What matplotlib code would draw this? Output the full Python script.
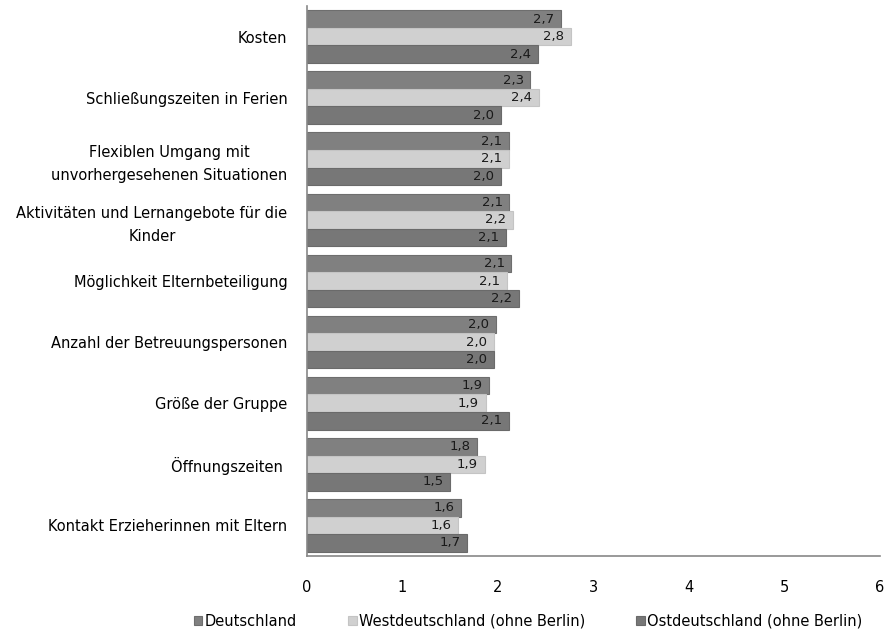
import matplotlib
matplotlib.use("Agg")
import matplotlib.pyplot as plt
import numpy as np

categories = [
    "Kosten",
    "Schließungszeiten in Ferien",
    "Flexiblen Umgang mit\nunvorhergesehenen Situationen",
    "Aktivitäten und Lernangebote für die\nKinder",
    "Möglichkeit Elternbeteiligung",
    "Anzahl der Betreuungspersonen",
    "Größe der Gruppe",
    "Öffnungszeiten ",
    "Kontakt Erzieherinnen mit Eltern",
]
series_names = ["Deutschland", "Westdeutschland (ohne Berlin)", "Ostdeutschland (ohne Berlin)"]
deutschland = [2.66, 2.34, 2.11, 2.12, 2.14, 1.98, 1.91, 1.78, 1.61]
west = [2.76, 2.43, 2.11, 2.16, 2.09, 1.96, 1.87, 1.86, 1.58]
ost = [2.42, 2.03, 2.03, 2.08, 2.22, 1.96, 2.11, 1.50, 1.68]
xticks = [0, 1, 2, 3, 4, 5, 6]

colors = ["#808080", "#d0d0d0", "#777777"]
edges = ["#6e6e6e", "#c4c4c4", "#6a6a6a"]

plt.rcParams['font.family'] = ['DejaVu Sans']
fig = plt.figure(figsize=(8.87, 6.31), dpi=100)
ax = fig.add_axes([307/887, 1-556/631, (880-307)/887, (556-6)/631])

n = len(categories)
y = np.arange(n)
h = 0.287
offsets = [-h, 0, h]
data = [deutschland, west, ost]
handles = []
for i, (vals, off) in enumerate(zip(data, offsets)):
    bars = ax.barh(y + off, vals, height=h, color=colors[i], edgecolor=edges[i],
                   linewidth=0.8, label=series_names[i])
    handles.append(bars)
    for b, v in zip(bars, vals):
        ax.text(v - 0.07, b.get_y() + b.get_height()/2, f"{v:.1f}".replace('.', ','),
                ha='right', va='center', fontsize=9.5, color='#1a1a1a')

ax.set_ylim(n - 0.5, -0.5)
ax.set_xlim(0, 6)
ax.set_xticks(xticks)
ax.set_xticklabels([str(t) for t in xticks], fontsize=10.5)
ax.set_yticks(y)
ax.set_yticklabels(categories, fontsize=10.5, ha='right', multialignment='center',
                   linespacing=1.65)
for lbl in ax.get_yticklabels():
    if "\n" in lbl.get_text():
        lbl.set_va('center_baseline')
ax.tick_params(axis='y', length=0, pad=14)
ax.tick_params(axis='x', length=0, pad=17)
for s in ['top', 'right']:
    ax.spines[s].set_visible(False)
ax.spines['left'].set_color('#888888')
ax.spines['bottom'].set_color('#888888')
ax.spines['left'].set_linewidth(1.2)
ax.spines['bottom'].set_linewidth(1.2)

leg = fig.legend(handles=handles, labels=series_names, loc='center', ncol=3,
                 bbox_to_anchor=(528/887, 1-621/631), frameon=False, fontsize=10.5,
                 handlelength=0.6, handleheight=0.6, handletextpad=0.15, columnspacing=3.5)

fig.savefig("out.png", dpi=100)
